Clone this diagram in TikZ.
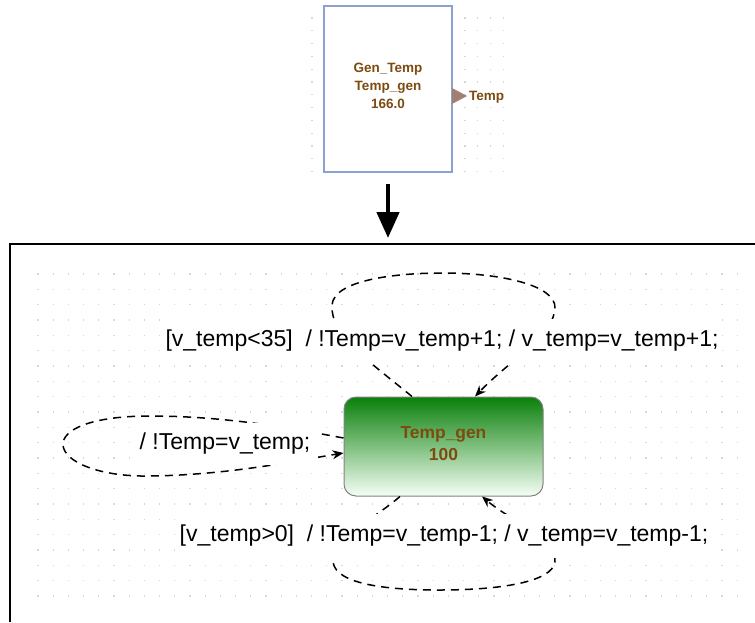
\documentclass[tikz,border=0pt]{standalone}
\usepackage{fontspec}
\setmainfont{Liberation Sans}
\usetikzlibrary{arrows.meta,calc}
\definecolor{txtbrown}{RGB}{125,75,15}
\definecolor{portcol}{RGB}{160,128,112}
\definecolor{boxblue}{RGB}{140,160,210}
\definecolor{stategreen}{RGB}{10,128,10}
\definecolor{stateborder}{RGB}{130,130,130}
\definecolor{dotcol}{RGB}{215,215,215}
\begin{document}
\begin{tikzpicture}[x=1pt,y=-1pt,
  gdot/.style={fill=dotcol},
  loopline/.style={line width=1.5pt, dash pattern=on 8pt off 6pt, -{Stealth[length=11pt,width=9pt]}},
  lbl/.style={fill=white, font=\fontsize{23}{27}\selectfont, inner xsep=4pt, inner ysep=11pt},
  boldbrown/.style={text=txtbrown, align=center}
]
\useasboundingbox (0,0) rectangle (755,622);
% grids of dots
\foreach \i in {0,...,15} \foreach \j in {0,...,12}
  \fill[gdot] ({312+12.75*\i-0.6},{18+12.8*\j-0.6}) rectangle ++(1.2,1.2);
\foreach \i in {0,...,46} \foreach \j in {0,...,21}
  \fill[gdot] ({38+15.2*\i-0.6},{274+15.33*\j-0.6}) rectangle ++(1.2,1.2);
% frame
\draw[line width=1.5pt] (10,622) -- (10,244) -- (755,244);
% top block
\node[draw=boxblue, line width=1.2pt, fill=white, minimum width=128pt, minimum height=166pt, inner sep=0pt] (B) at (388,89) {};
\node[boldbrown, font=\bfseries\fontsize{13.5}{18}\selectfont] (Bt) at (388,86) {Gen\_Temp\\Temp\_gen\\166.0};
\fill[portcol] (452,88) -- (467,96) -- (452,104) -- cycle;
\node[anchor=west, inner sep=0pt, text=txtbrown, font=\bfseries\fontsize{13.5}{16}\selectfont] (Pt) at (469,97) {Temp};
% big arrow
\coordinate (arrE) at (388,238);
\draw[line width=4.5pt, -{Triangle[length=26pt,width=22pt]}] ([yshift=-11pt]B.south) -- (arrE);
% state
\node[draw=stateborder, line width=1pt, rounded corners=12pt, top color=stategreen, bottom color=white!96!green, minimum width=199pt, minimum height=99pt, inner sep=0pt] (S) at (443.5,446.5) {};
\node[boldbrown, font=\bfseries\fontsize{17.4}{22}\selectfont] (St) at (443.5,443.5) {Temp\_gen\\100};
% loops
\draw[loopline] ($(S.north)+(-31.5,0)$) .. controls (370,362) and (330,335) .. (332,305)
  .. controls (334,280) and (395,273) .. (443,273)
  .. controls (500,273) and (556,285) .. (555,308)
  .. controls (554,335) and (510,360) .. ($(S.north)+(31.5,0)$);
\draw[loopline] ($(S.south)+(-43.5,0)$) .. controls (370,522) and (330,540) .. (333,562)
  .. controls (336,585) and (390,590) .. (440,590)
  .. controls (500,590) and (552,582) .. (555,562)
  .. controls (557,540) and (510,520) .. ($(S.south)+(38.5,0)$);
\draw[loopline] ($(S.west)+(0,-8.5)$) .. controls (300,430) and (230,416) .. (150,416)
  .. controls (90,416) and (62,430) .. (63,445)
  .. controls (64,462) and (100,477) .. (150,476)
  .. controls (230,475) and (300,460) .. ($(S.west)+(0,6.5)$);
% labels
\node[lbl] (Ltop) at (442,341) {[v\_temp<35]\ \ / !Temp=v\_temp+1; / v\_temp=v\_temp+1;};
\node[lbl] (Lbot) at (444,536) {[v\_temp>0]\ \ / !Temp=v\_temp-1; / v\_temp=v\_temp-1;};
\node[lbl, inner xsep=8pt, inner ysep=10pt] (Lleft) at (225,444) {/ !Temp=v\_temp;};
\end{tikzpicture}
\end{document}
